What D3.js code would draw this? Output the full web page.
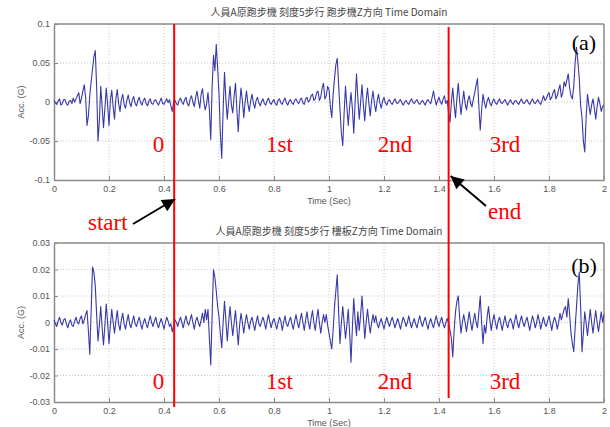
<!DOCTYPE html>
<html><head><meta charset="utf-8">
<script src="https://cdn.jsdelivr.net/npm/d3@7"></script>
<style>
html,body{margin:0;padding:0;background:#fff;}
svg{display:block;}
</style></head>
<body>
<svg id="c" width="610" height="427"></svg>
<script>
// ---- data (time step 0.005 s, 0..2 s) ----
const timeStep = 0.005;
// panel (a): treadmill Z acceleration, in 0.001 G
const accA_mG = [
 2,-1,-3,1,4,-4,-2,3,3,-2,-4,1,2,-2,5,0,4,8,12,-2,
 5,14,22,6,-30,-18,8,26,42,58,66,20,-50,-24,20,-6,-33,-8,18,-4,
 -30,2,15,-6,-22,4,16,-2,-12,3,10,-3,-8,2,9,-1,-6,3,7,-2,
 -5,2,6,-1,-4,2,5,-2,-5,1,4,-2,-3,2,3,-1,-4,1,5,-2,
 -3,1,4,-1,3,-5,-12,0,2,-2,-4,2,5,0,-3,3,6,-2,-5,4,
 8,0,-6,6,14,2,-8,10,17,0,-10,-2,12,-10,-48,20,60,40,74,44,
 10,-40,-72,-10,38,4,-22,0,20,-4,-14,8,24,-10,-38,-4,18,2,-20,0,
 14,-2,-12,1,10,-1,-8,2,6,-1,-5,1,4,-2,-4,2,5,-1,-3,1,
 3,-2,-4,2,4,-1,-3,2,5,-1,-4,1,3,-1,-3,2,4,0,-2,3,
 5,-1,-3,4,6,0,2,8,10,2,4,12,14,2,6,18,24,4,8,20,
 16,-6,-20,10,30,48,56,22,-10,-40,-56,-14,20,-6,-30,-6,12,-8,-40,0,
 36,4,-22,0,22,-4,-24,2,18,-2,-18,2,14,-2,-12,1,10,-1,-8,1,
 6,-1,-4,1,3,-1,-3,1,4,-1,-2,1,3,-1,-4,0,2,-1,-3,1,
 4,0,-2,1,3,-1,-3,0,2,-1,-4,1,3,0,-2,6,14,4,-4,2,
 6,0,-3,4,8,-2,2,-14,-26,0,18,-4,-20,4,24,2,-16,0,14,-2,
 -10,2,8,-2,-6,4,12,22,30,-6,-36,-10,10,0,-8,1,6,-1,-5,1,
 4,-1,-3,1,4,-1,-2,1,3,-1,-4,0,3,-1,-3,1,2,-1,-3,1,
 4,-1,-2,1,3,-1,-3,1,4,-1,-2,1,3,-1,-3,2,8,2,4,9,
 12,3,6,12,16,4,8,16,22,6,12,26,20,28,36,18,8,4,20,50,
 70,52,30,-4,-20,-50,-64,-20,10,-4,-16,-4,4,-8,-22,-6,6,-2,-12,-6,
 -4
];
// panel (b): floor slab Z acceleration, in 0.0001 G
const accB_01mG = [
 10,-5,-15,5,20,0,-10,10,15,-5,-20,0,10,-10,-15,5,20,0,-5,15,
 25,-5,10,30,45,-30,-120,40,210,190,140,30,-70,-10,60,-20,-85,-10,70,0,
 -80,-10,50,0,-40,5,45,-5,-30,10,35,-5,-25,5,30,-5,-20,5,25,-5,
 -15,5,20,-5,-25,0,15,-5,-20,5,25,0,-15,5,20,-5,-20,0,15,-5,
 -25,0,20,5,-15,-5,-35,-10,10,0,-15,5,20,0,-20,5,25,0,-10,10,
 30,0,-25,5,20,0,-15,10,35,0,50,10,50,-60,-160,30,200,170,120,60,
 20,-40,-95,0,80,10,-70,0,60,0,-50,0,45,-20,-85,-10,35,0,-40,0,
 30,0,-25,5,20,-5,-30,0,25,-5,-15,5,20,0,-25,5,30,0,-20,5,
 15,-5,-25,0,20,5,-30,0,25,-5,-15,5,20,-5,-25,5,30,0,-20,10,
 35,0,-30,10,40,0,-25,15,45,0,-30,15,50,0,-40,0,30,0,30,-10,
 -40,-70,-100,-30,60,120,180,40,-80,0,60,0,-60,-10,50,-40,-150,-20,90,10,
 -50,40,-30,30,100,20,-60,0,50,0,-40,0,30,0,25,-5,-20,0,15,-5,
 -25,0,20,0,-15,5,20,0,-20,0,15,-5,-25,0,20,5,-15,0,25,0,
 -20,0,15,-5,-20,5,25,0,-15,5,20,-5,-25,0,15,-5,-20,5,25,0,
 -15,5,20,-5,-20,0,15,0,-30,-60,-130,-30,40,80,100,20,-40,0,30,0,
 -35,5,40,0,-30,5,35,0,-20,40,100,0,-80,-10,-40,20,60,10,-30,5,
 30,0,-25,5,20,-5,-30,0,25,-5,-20,5,15,0,-25,5,30,0,-20,5,
 25,0,-15,5,20,-5,-30,0,25,5,-20,0,30,5,-25,0,20,-5,-15,5,
 25,0,-30,0,20,5,-25,0,35,10,30,50,60,20,90,30,-40,-80,-110,-20,
 60,140,190,60,-110,-40,40,0,-50,0,50,0,-40,5,45,0,-35,5,40,0,
 30
];
const titleA = "人員A原跑步機 刻度5步行 跑步機Z方向 Time Domain";
const titleB = "人員A原跑步機 刻度5步行 樓板Z方向 Time Domain";
const xTicks = [0,0.2,0.4,0.6,0.8,1,1.2,1.4,1.6,1.8,2];
const yTicksA = [-0.1,-0.05,0,0.05,0.1];
const yTicksB = [-0.03,-0.02,-0.01,0,0.01,0.02,0.03];
const stepLabels = ["0","1st","2nd","3rd"];
const stepLabelT = [0.38,0.82,1.24,1.64];   // label centres (s)
const markerT = [0.437, 1.435];            // start / end times (s)

const seriesA = accA_mG.map((v,i)=>({t:i*timeStep, v:v/1000}));
const seriesB = accB_01mG.map((v,i)=>({t:i*timeStep, v:v/10000}));

const svg = d3.select("#c");
const x = d3.scaleLinear().domain([0,2]).range([54,604]);

svg.append("defs").append("marker")
  .attr("id","ah").attr("viewBox","0 0 10 10").attr("refX",10).attr("refY",5)
  .attr("markerWidth",15).attr("markerHeight",13).attr("markerUnits","userSpaceOnUse")
  .attr("orient","auto")
  .append("path").attr("d","M0,0L10,5L0,10z").attr("fill","#000");

function panel(data, ticks, yDom, top, bottom, title, tag, tagY, labelY){
  const y = d3.scaleLinear().domain(yDom).range([bottom, top]);
  const g = svg.append("g");
  // grid
  g.selectAll(".gx").data(xTicks.slice(1,-1)).join("line")
    .attr("x1",d=>x(d)).attr("x2",d=>x(d)).attr("y1",top).attr("y2",bottom)
    .attr("stroke","#b8b8b8").attr("stroke-width",0.8).attr("stroke-dasharray","1,2");
  g.selectAll(".gy").data(ticks.slice(1,-1)).join("line")
    .attr("y1",d=>y(d)).attr("y2",d=>y(d)).attr("x1",x(0)).attr("x2",x(2))
    .attr("stroke","#b8b8b8").attr("stroke-width",0.8).attr("stroke-dasharray","1,2");
  // axes
  const fmt = d=>String(d);
  const ax = g.append("g").attr("transform",`translate(0,${bottom})`)
    .call(d3.axisBottom(x).tickValues(xTicks).tickFormat(fmt).tickSizeInner(-4).tickSizeOuter(0).tickPadding(6));
  const ay = g.append("g").attr("transform",`translate(${x(0)},0)`)
    .call(d3.axisLeft(y).tickValues(ticks).tickFormat(fmt).tickSizeInner(-4).tickSizeOuter(0).tickPadding(4));
  [ax,ay].forEach(a=>{
    a.select(".domain").attr("stroke","#8a8a8a").attr("stroke-width",1.5);
    a.selectAll(".tick line").attr("stroke","#8a8a8a");
    a.selectAll(".tick text").attr("fill","#555").attr("font-size",9)
      .attr("font-family","Arial, 'Liberation Sans', sans-serif");
  });
  // top & right box
  g.append("line").attr("x1",x(0)).attr("x2",x(2)).attr("y1",top).attr("y2",top)
    .attr("stroke","#8a8a8a").attr("stroke-width",1.5);
  g.append("line").attr("x1",x(2)).attr("x2",x(2)).attr("y1",top).attr("y2",bottom)
    .attr("stroke","#8a8a8a").attr("stroke-width",1.5);
  // line
  g.append("path").datum(data)
    .attr("d", d3.line().x(d=>x(d.t)).y(d=>y(d.v)))
    .attr("fill","none").attr("stroke","#3838aa").attr("stroke-width",1.1).attr("stroke-linejoin","round");
  // titles
  g.append("text").attr("x",329).attr("y",top-8).attr("text-anchor","middle")
    .attr("font-size",10).attr("fill","#444")
    .attr("font-family","'Noto Sans CJK TC','Noto Sans CJK SC',sans-serif").text(title);
  g.append("text").attr("x",(x(0)+x(2))/2).attr("y",bottom+24).attr("text-anchor","middle")
    .attr("font-size",9).attr("fill","#555")
    .attr("font-family","Arial, 'Liberation Sans', sans-serif").text("Time (Sec)");
  g.append("text").attr("transform",`translate(24,${(top+bottom)/2}) rotate(-90)`)
    .attr("text-anchor","middle").attr("font-size",9).attr("fill","#555")
    .attr("font-family","Arial, 'Liberation Sans', sans-serif").text("Acc. (G)");
  // step labels
  g.selectAll(".sl").data(stepLabels).join("text")
    .attr("x",(d,i)=>x(stepLabelT[i])).attr("y",labelY).attr("text-anchor","middle")
    .attr("font-size",23).attr("fill","#ff0000")
    .attr("font-family","'Liberation Serif','Times New Roman',serif").text(d=>d);
  g.append("text").attr("x",584).attr("y",tagY).attr("text-anchor","middle")
    .attr("font-size",22).attr("fill","#000")
    .attr("font-family","'Liberation Serif','Times New Roman',serif").text(tag);
}

panel(seriesA, yTicksA, [-0.1,0.1], 24, 180, titleA, "(a)", 50, 152);
panel(seriesB, yTicksB, [-0.03,0.03], 243, 402, titleB, "(b)", 273, 389);

// red marker lines
svg.append("line").attr("x1",x(markerT[0])).attr("x2",x(markerT[0])).attr("y1",24).attr("y2",407)
  .attr("stroke","#ff0000").attr("stroke-width",2);
svg.append("line").attr("x1",x(markerT[1])).attr("x2",x(markerT[1])).attr("y1",27).attr("y2",398)
  .attr("stroke","#ff0000").attr("stroke-width",2);

// arrows and labels
svg.append("line").attr("x1",133).attr("y1",224).attr("x2",x(markerT[0])+1).attr("y2",199)
  .attr("stroke","#000").attr("stroke-width",2).attr("marker-end","url(#ah)");
svg.append("line").attr("x1",486).attr("y1",206).attr("x2",x(markerT[1])+2).attr("y2",176)
  .attr("stroke","#000").attr("stroke-width",2).attr("marker-end","url(#ah)");
svg.append("text").attr("x",88).attr("y",230).attr("font-size",23).attr("fill","#ff0000")
  .attr("font-family","'Liberation Serif','Times New Roman',serif").text("start");
svg.append("text").attr("x",488).attr("y",219).attr("font-size",23).attr("fill","#ff0000")
  .attr("font-family","'Liberation Serif','Times New Roman',serif").text("end");
</script>
</body></html>
